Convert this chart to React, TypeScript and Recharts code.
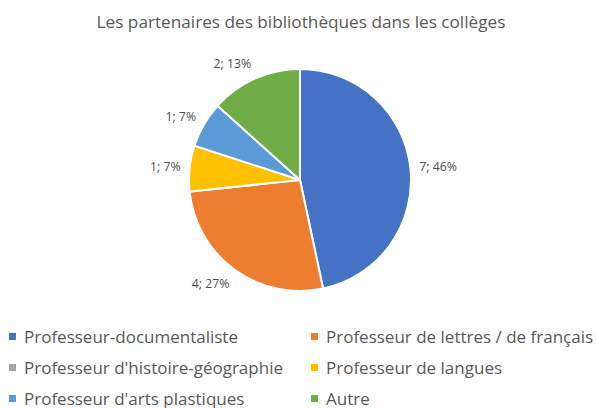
import React from "react";
import { PieChart, Pie, Cell, Legend } from "recharts";

const categories = [
  "Professeur-documentaliste",
  "Professeur de lettres / de français",
  "Professeur d'histoire-géographie",
  "Professeur de langues",
  "Professeur d'arts plastiques",
  "Autre",
];
const values = [7, 4, 0, 1, 1, 2];
const percentLabels = ["46%", "27%", "0%", "7%", "7%", "13%"];
const colors = ["#4472C4", "#ED7D31", "#A5A5A5", "#FFC000", "#5B9BD5", "#70AD47"];
const title = "Les partenaires des bibliothèques dans les collèges";

const data = categories.map((name, i) => ({ name, value: values[i], pct: percentLabels[i] }));

const FONT = "'Open Sans', sans-serif";
const RAD = Math.PI / 180;

const renderLabel = (props: any) => {
  const { cx, cy, midAngle, outerRadius, index } = props;
  if (!values[index]) return null;
  const r = outerRadius + 9;
  const c = Math.cos(-midAngle * RAD);
  const s = Math.sin(midAngle * RAD);
  const x = cx + r * c;
  const y = cy - r * s - s * 8;
  return (
    <text
      x={x}
      y={y}
      fill="#505050"
      fontSize={12.3}
      fontFamily={FONT}
      textAnchor={c >= 0 ? "start" : "end"}
      dominantBaseline="central"
    >
      {`${values[index]}; ${percentLabels[index]}`}
    </text>
  );
};

const LegendContent = () => (
  <div
    style={{
      display: "grid",
      gridTemplateColumns: "302px 290px",
      rowGap: 0,
      fontFamily: FONT,
      fontSize: 17,
      color: "#595959",
    }}
  >
    {categories.map((c, i) => (
      <div key={c} style={{ display: "flex", alignItems: "center", height: 31, whiteSpace: "nowrap" }}>
        <span
          style={{
            display: "inline-block",
            width: 7,
            height: 7,
            background: colors[i],
            marginRight: 8,
          }}
        />
        {c}
      </div>
    ))}
  </div>
);

export default function App() {
  return (
    <div style={{ position: "absolute", left: 0, top: 0, width: 597, height: 408, background: "#fff" }}>
      <div
        style={{
          position: "absolute",
          left: 0,
          top: 10,
          width: 602,
          textAlign: "center",
          fontFamily: FONT,
          fontSize: 17.2,
          color: "#595959",
        }}
      >
        {title}
      </div>
      <PieChart width={597} height={408} margin={{ top: 0, right: 0, bottom: 0, left: 0 }}>
        <Pie
          data={data}
          dataKey="value"
          nameKey="name"
          cx={300}
          cy={180}
          outerRadius={111}
          startAngle={90}
          endAngle={-270}
          stroke="#ffffff"
          strokeWidth={2}
          label={renderLabel}
          labelLine={false}
          isAnimationActive={false}
        >
          {data.map((d, i) => (
            <Cell key={d.name} fill={colors[i]} />
          ))}
        </Pie>
        <Legend
          content={<LegendContent />}
          wrapperStyle={{ position: "absolute", left: 9, top: 321, width: 597 }}
        />
      </PieChart>
    </div>
  );
}
